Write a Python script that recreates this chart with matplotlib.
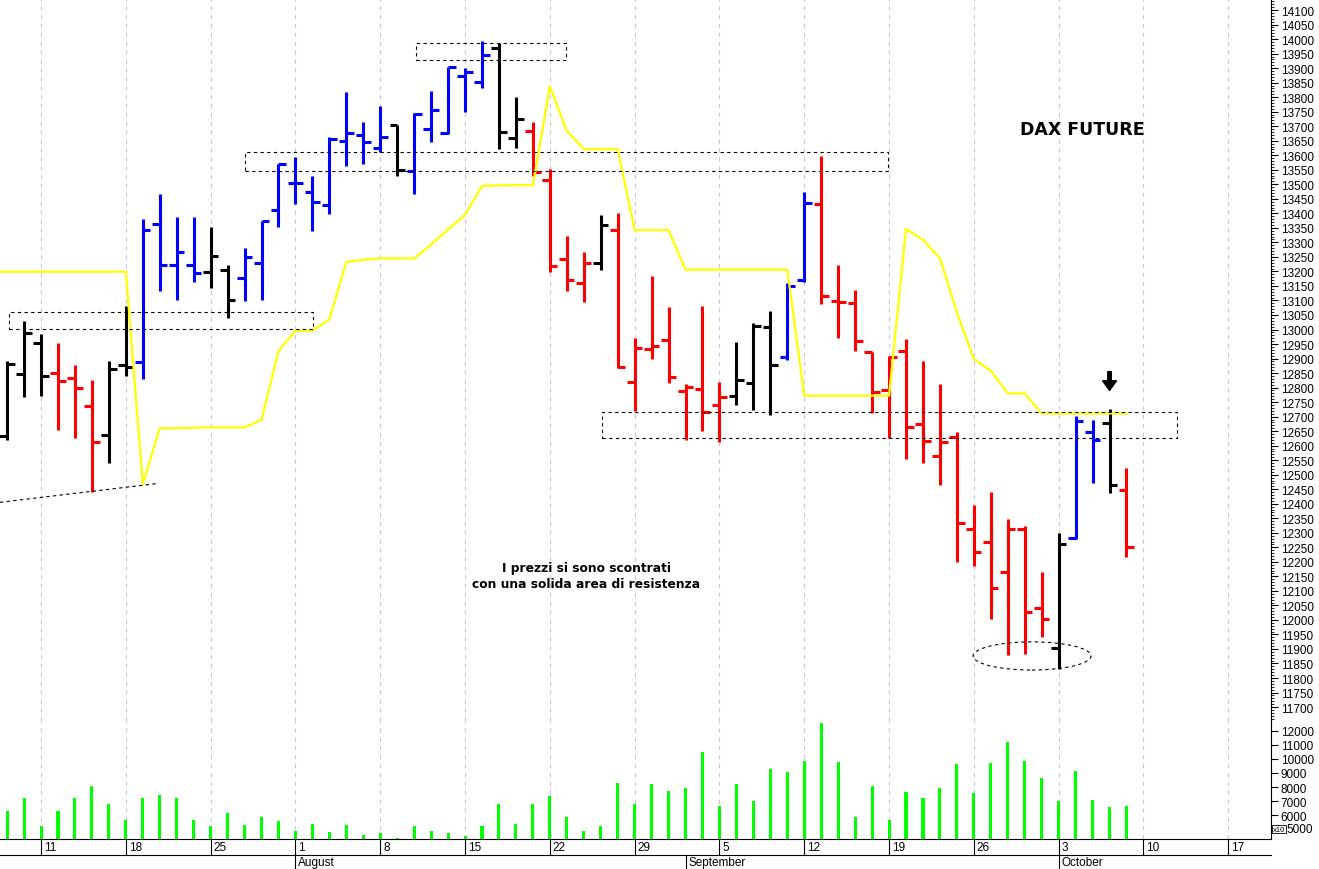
import numpy as np
import pandas as pd
import matplotlib
matplotlib.use("Agg")
import matplotlib.pyplot as plt
import matplotlib.transforms as mtransforms
from matplotlib.patches import Rectangle, Ellipse
from matplotlib.lines import Line2D
from matplotlib.ticker import MultipleLocator

# daily OHLC of the DAX future, 7 Jul 2022 - 7 Oct 2022
opens = [12633, 12847, 12952, 12849, 12833, 12735, 12636, 12879, 12888, 13363,
         13222, 13222, 13197, 13206, 13178, 13229, 13411, 13503, 13472, 13430,
         13650, 13670, 13625, 13705, 13545, 13690, 13676, 13874, 13851, 13968,
         13658, 13684, 13516, 13243, 13160, 13228, 13342, 12818, 12933, 12964,
         12787, 12795, 12740, 12772, 12815, 13007, 12907, 13170, 13432, 13097,
         13091, 12921, 12793, 12925, 12673, 12564, 12629, 12313, 12270, 12164,
         12313, 12041, 11905, 12281, 12646, 12678, 12448]
highs = [12890, 13028, 12984, 12953, 12878, 12825, 12892, 13080, 13380, 13466,
         13386, 13386, 13354, 13222, 13279, 13372, 13570, 13593, 13527, 13662,
         13817, 13713, 13768, 13705, 13745, 13822, 13905, 13899, 13994, 13986,
         13801, 13713, 13552, 13321, 13266, 13395, 13400, 12970, 13183, 13076,
         12812, 13080, 12818, 12956, 13021, 13065, 13160, 13472, 13598, 13223,
         13137, 12921, 12910, 12969, 12890, 12811, 12646, 12395, 12441, 12347,
         12324, 12164, 12298, 12701, 12689, 12726, 12523]
lows = [12620, 12766, 12772, 12655, 12625, 12439, 12539, 12841, 12829, 13131,
        13102, 13162, 13142, 13038, 13099, 13102, 13352, 13432, 13340, 13398,
        13564, 13570, 13612, 13527, 13466, 13644, 13673, 13748, 13830, 13621,
        13625, 13527, 13197, 13133, 13096, 13206, 12866, 12720, 12898, 12815,
        12620, 12649, 12611, 12740, 12723, 12705, 12895, 13162, 13088, 12970,
        12927, 12712, 12625, 12554, 12540, 12464, 12198, 12186, 12003, 11879,
        11882, 11940, 11831, 12278, 12470, 12436, 12217]
closes = [12880, 12988, 12839, 12821, 12797, 12611, 12864, 12872, 13342, 13222,
          13268, 13193, 13254, 13100, 13248, 13372, 13570, 13503, 13438, 13656,
          13676, 13644, 13662, 13549, 13742, 13756, 13903, 13888, 13945, 13679,
          13725, 13543, 13220, 13170, 13228, 13360, 12870, 12935, 12944, 12835,
          12803, 12715, 12766, 12826, 13013, 12878, 13151, 13434, 13116, 13093,
          12959, 12784, 12907, 12663, 12615, 12611, 12334, 12233, 12109, 12313,
          12029, 12003, 12261, 12684, 12620, 12464, 12250]
bar_color = list("kkkrrrkkbbbbkkbbbbbbbbbkbbbbbkkrrrrkrrrrrrrkkkbbrrrrrrrrrrrrrrkbbkr")

volume = [6277, 7215, 5216, 6277, 7215, 8081, 6753, 5649, 7215, 7453,
          7215, 5649, 5192, 6133, 5289, 5866, 5553, 4834, 5361, 4759,
          5289, 4567, 4711, 4351, 5216, 4880, 4687, 4495, 5216, 6753,
          5337, 6753, 7381, 5866, 4880, 5216, 8319, 6753, 8224, 7720,
          7958, 10534, 6638, 8246, 6999, 9257, 9088, 9882, 12551, 9810,
          5890, 8081, 5625, 7648, 7215, 7936, 9640, 7576, 9738, 11227,
          9882, 8658, 6970, 9136, 7042, 6537, 6638]
vol_ticks = list(range(5000, 12001, 1000))

# yellow indicator, starts one session earlier (6 Jul)
yellow = [13199, 13199, 13199, 13199, 13199, 13199, 13199, 13199, 13199,
          12468, 12660, 12660, 12662, 12663, 12663, 12663, 12689, 12927, 12996,
          12996, 13035, 13233, 13240, 13245, 13245, 13245, 13292, 13345, 13394,
          13495, 13496, 13497, 13497, 13837, 13684, 13621, 13621, 13621, 13342,
          13342, 13342, 13206, 13206, 13206, 13206, 13206, 13206, 13206, 12772,
          12772, 12772, 12772, 12772, 12772, 13346, 13309, 13246, 13059, 12898,
          12858, 12780, 12780, 12711, 12711, 12711, 12711, 12711, 12711]

days = pd.bdate_range("2022-07-07", "2022-10-21")
cmap = {"k": "#000000", "r": "#ff0000", "b": "#0000ff"}
cols = [cmap[c] for c in bar_color]

W, H = 1319, 870
fig = plt.figure(figsize=(W / 100, H / 100), dpi=100)
right = 1271 / W
ax = fig.add_axes([0, 1 - 722 / H, right, 722 / H])
axv = fig.add_axes([0, 1 - 840 / H, right, 118 / H], sharex=ax)

idx = np.arange(len(opens))
tick_w = 0.45
lw = 2.2
ax.vlines(idx, lows, highs, colors=cols, lw=lw, zorder=2)
ax.hlines(opens, idx - tick_w, idx, colors=cols, lw=lw, zorder=2)
ax.hlines(closes, idx, idx + tick_w, colors=cols, lw=lw, zorder=2)
ax.plot(np.arange(-1, len(yellow) - 1), yellow, color="#ffff00", lw=1.6, zorder=3)

axv.bar(idx, volume, width=0.18, color="#00ff00", zorder=2)

# weekly grid on mondays
mondays = [i for i, d in enumerate(days) if d.weekday() == 0]
ax.set_xticks(mondays)
for a in (ax, axv):
    a.grid(axis="x", color="#c8c8e0", linestyle=(0, (4, 4)), lw=0.8, zorder=0)
    a.set_facecolor("white")
    for s in ("top", "left"):
        a.spines[s].set_visible(False)
    a.spines["right"].set_linewidth(0.8)
    a.yaxis.tick_right()
ax.spines["bottom"].set_visible(False)
axv.spines["bottom"].set_linewidth(0.8)
ax.set_xlim(-0.42, 74.52)

ax.set_ylim(11652, 14138)
ax.yaxis.set_major_locator(MultipleLocator(50))
ax.yaxis.set_minor_locator(MultipleLocator(10))
ax.tick_params(axis="x", length=0, labelbottom=False)
ax.tick_params(axis="y", which="major", length=5, width=0.8, pad=2, labelsize=8.5)
ax.tick_params(axis="y", which="minor", length=2.5, width=0.6)
for lab in ax.get_yticklabels():
    lab.set_family("Liberation Sans")

# volume scale; the lowest label sits next to the "x10" box
axv.set_ylim(4286, 12714)
axv.set_yticks(vol_ticks)
axv.set_yticklabels([""] + [str(v) for v in vol_ticks[1:]], family="Liberation Sans")
axv.tick_params(axis="y", length=5, width=0.8, pad=2, labelsize=8.5)
axv.tick_params(axis="x", length=11.5, width=0.8, direction="out", labelbottom=False)
ytrans = mtransforms.blended_transform_factory(axv.transAxes, axv.transData)
axv.annotate(str(vol_ticks[0]), xy=(1, vol_ticks[0]), xycoords=ytrans, xytext=(11.5, 0),
             textcoords="offset points", ha="left", va="center", fontsize=8.5,
             family="Liberation Sans", annotation_clip=False)
axv.annotate("x10", xy=(1, vol_ticks[0]), xycoords=ytrans, xytext=(1.6, 0),
             textcoords="offset points", ha="left", va="center", fontsize=5.5,
             family="Liberation Sans", annotation_clip=False,
             bbox=dict(boxstyle="square,pad=0.12", fc="white", ec="k", lw=0.6))

# date axis
trans = mtransforms.blended_transform_factory(axv.transData, axv.transAxes)
y1 = -16 / 118
y2 = -30 / 118
for i in mondays:
    if i <= 74:
        axv.annotate(str(days[i].day), xy=(i, 0), xycoords=trans, xytext=(2, -1.5),
                     textcoords="offset points", ha="left", va="top",
                     fontsize=8.5, family="Liberation Sans")
fig.add_artist(Line2D([0, right], [1 - 856 / H] * 2, color="k", lw=0.8))
for i in range(1, len(days)):
    if days[i].month != days[i - 1].month:
        axv.plot([i, i], [y1, y2], transform=trans, clip_on=False, color="k", lw=0.8)
        axv.annotate(days[i].strftime("%B"), xy=(i, y1), xycoords=trans, xytext=(2, -1),
                     textcoords="offset points", ha="left", va="top",
                     fontsize=8.5, family="Liberation Sans")

# dotted annotations
dots = dict(fill=False, ec="k", lw=0.8, ls=(0, (3, 3)), zorder=4)
ax.add_patch(Rectangle((0.11, 13002), 17.93, 58, **dots))
ax.add_patch(Rectangle((24.11, 13928), 8.84, 57, **dots))
ax.add_patch(Rectangle((14.03, 13546), 37.91, 65, **dots))
ax.add_patch(Rectangle((35.08, 12626), 33.9, 90, **dots))
ax.add_patch(Ellipse((60.43, 11876), 6.96, 97, **dots))
ax.plot([-0.42, 8.9], [12405, 12470], color="k", lw=0.8, ls=(0, (3, 3)), zorder=4)

ax.annotate("", xy=(65, 12790), xytext=(65, 12855),
            arrowprops=dict(facecolor="black", edgecolor="black", width=2.6,
                            headwidth=10, headlength=7, shrink=0))

fig.text(1082 / W, 1 - 130 / H, "DAX FUTURE", fontsize=12.5, fontweight="bold",
         ha="center", va="center", family="DejaVu Sans")
fig.text(586 / W, 1 - 577 / H, "I prezzi si sono scontrati\ncon una solida area di resistenza",
         fontsize=8.8, fontweight="bold", ha="center", va="center",
         multialignment="center", linespacing=1.3, family="DejaVu Sans")

fig.savefig("out.png", dpi=100, facecolor="white")
